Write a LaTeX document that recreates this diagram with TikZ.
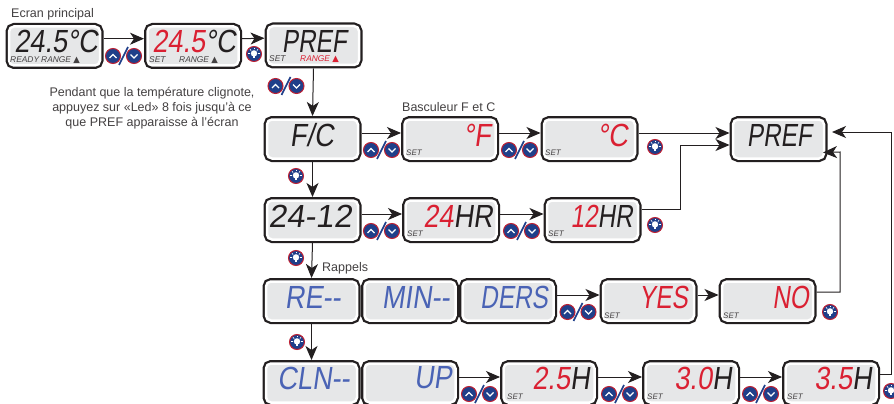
\documentclass[tikz,border=0pt]{standalone}
\usepackage{fontspec}
\setmainfont{Liberation Sans}
\newfontfamily\segfont[FakeStretch=0.85,FakeSlant=0.14]{Liberation Sans}
\newfontfamily\segnarrow[FakeStretch=0.76,FakeSlant=0.14]{Liberation Sans}
\newfontfamily\segwide[FakeStretch=1.02,FakeSlant=0.14]{Liberation Sans}
\newfontfamily\symfont{DejaVu Sans}
\usetikzlibrary{arrows.meta}
\definecolor{ink}{HTML}{231F20}
\definecolor{lcd}{HTML}{E6E7E8}
\definecolor{lcdred}{HTML}{DA2032}
\definecolor{lcdblue}{HTML}{4A63B5}
\definecolor{navy}{HTML}{1F3F8A}
\definecolor{ringred}{HTML}{BE2033}
\newcommand{\red}[1]{\textcolor{lcdred}{#1}}
\newcommand{\tri}{{\symfont\upshape\fontsize{8.5}{8.5}\selectfont ▲}}

\begin{document}
\begin{tikzpicture}[x=1pt,y=-1pt,
    lcdbox/.style={rectangle, rounded corners=5pt, fill=lcd, draw=white, line width=2.5pt,
      preaction={draw=ink, line width=7pt}, minimum width=91pt, minimum height=39pt,
      inner sep=0pt, outer sep=3.5pt},
    readout/.style={font=\segfont\fontsize{32}{32}\selectfont, anchor=east, inner sep=0pt, text=ink},
    narrow/.style={font=\segnarrow\fontsize{32}{32}\selectfont},
    small/.style={font=\itshape\fontsize{8.4}{8.4}\selectfont, inner sep=0pt, text=ink!85, anchor=west},
    caption/.style={font=\fontsize{12.5}{15.3}\selectfont, inner sep=0pt, text=ink!85},
    link/.style={draw=ink, line width=1pt, -{Stealth[length=14pt,width=12pt,inset=4pt]}},
    updown/.pic={
      \draw[ringred, fill=navy, line width=1pt] (-10.5,0) circle (7.5pt);
      \draw[ringred, fill=navy, line width=1pt] (10.5,0) circle (7.5pt);
      \draw[white, line width=1.3pt] (-14,2) -- (-10.5,-1.5) -- (-7,2);
      \draw[white, line width=1.3pt] (7,-1.5) -- (10.5,2) -- (14,-1.5);
      \draw[navy, line width=1.6pt] (-4.5,9) -- (4.5,-9);
    },
    bulb/.pic={
      \draw[ringred, fill=navy, line width=1pt] (0,0) circle (7.5pt);
      \fill[white] (0,-0.6) circle (3.2pt);
      \fill[white] (-1.4,1.5) rectangle (1.4,3.8);
      \foreach \a in {180,225,...,360}
        \draw[white, line width=0.7pt] (0,-0.6) ++(\a:4) -- ++(\a:1.7);
    }]
  \useasboundingbox (0,0) rectangle (894,404);
  \fill[white] (0,0) rectangle (894,404);

  % first row
  \node[lcdbox] (main) at (54.5,46) {};
  \node[lcdbox] (setpt) at (193,46) {};
  \node[lcdbox] (pref) at (313.5,45.5) {};
  % second row
  \node[lcdbox] (fc) at (312.5,139) {};
  \node[lcdbox] (fahr) at (450,139) {};
  \node[lcdbox] (cels) at (589.5,139) {};
  \node[lcdbox] (prefend) at (778.5,139) {};
  % third row
  \node[lcdbox] (clock) at (312.5,220) {};
  \node[lcdbox] (hr24) at (451,220) {};
  \node[lcdbox] (hr12) at (592.5,220) {};
  % reminders
  \node[lcdbox] (re) at (311.5,301) {};
  \node[lcdbox] (mins) at (410,301) {};
  \node[lcdbox] (ders) at (508,301) {};
  \node[lcdbox] (yes) at (648.5,301) {};
  \node[lcdbox] (no) at (767.5,301) {};
  % cleaning
  \node[lcdbox] (cln) at (311.5,383) {};
  \node[lcdbox] (up) at (410,383) {};
  \node[lcdbox] (h25) at (549,383) {};
  \node[lcdbox] (h30) at (691,383) {};
  \node[lcdbox] (h35) at (831,383) {};

  \node[readout] (maintxt) at (98,41.5) {24.5°C};
  \node[readout] (setpttxt) at (236,41.5) {\red{24.5}°C};
  \node[readout,narrow] (preftxt) at (347,41.5) {PREF};
  \node[readout] (fctxt) at (334,135) {F/C};
  \node[readout] (fahrtxt) at (491,135) {\red{°F}};
  \node[readout] (celstxt) at (628,135) {\red{°C}};
  \node[readout,narrow] (prefendtxt) at (812,135) {PREF};
  \node[readout,font=\segwide\fontsize{32}{32}\selectfont] (clocktxt) at (352,216) {24-12};
  \node[readout] (hr24txt) at (493,216) {\red{24}HR};
  \node[readout,narrow] (hr12txt) at (633,216) {\red{12}HR};
  \node[readout,text=lcdblue] (retxt) at (341,297) {RE--};
  \node[readout,text=lcdblue] (minstxt) at (450,297) {MIN--};
  \node[readout,narrow,text=lcdblue] (derstxt) at (548,297) {DERS};
  \node[readout,narrow,text=lcdred] (yestxt) at (688,297) {YES};
  \node[readout,narrow,text=lcdred] (notxt) at (809,297) {NO};
  \node[readout,text=lcdblue] (clntxt) at (350,378) {CLN--};
  \node[readout,text=lcdblue] (uptxt) at (452,378) {UP};
  \node[readout] (h25txt) at (590,378) {\red{2.5}H};
  \node[readout] (h30txt) at (732,378) {\red{3.0}H};
  \node[readout] (h35txt) at (872,378) {\red{3.5}H};

  % small legends
  \node[small] (rdy) at (10,60) {READY};
  \node[small] (rng) at (41,60) {RANGE \tri};
  \node[small] (set) at (149,60) {SET};
  \node[small] (rng2) at (179,60) {RANGE \tri};
  \node[small] (set2) at (269,59) {SET};
  \node[small,text=lcdred] (rng3) at (300,59) {RANGE \tri};
  \foreach \b/\x/\y in {fahr/406/153,cels/545/153,hr24/407/234,hr12/548/234,yes/604/316,no/723/316,h25/507/397,h30/647/397,h35/787/397}
    \node[small,font=\itshape\fontsize{8}{8}\selectfont] (set\b) at (\x,\y) {SET};

  % captions
  \node[caption,anchor=west] (title) at (11,14) {Ecran principal};
  \node[caption,align=center] (note) at (152,108) {Pendant que la température clignote,\\appuyez sur «Led» 8 fois jusqu’à ce\\que PREF apparaisse à l’écran};
  \node[caption,anchor=west] (toggle) at (402,107) {Basculeur F et C};
  \node[caption,anchor=west] (remind) at (322,268) {Rappels};

  % links
  \foreach \a/\b in {main/setpt,setpt/pref}
    \draw[link] ([yshift=7.3pt]\a.east) -- ([yshift=7.3pt]\b.west);
  \foreach \a/\b in {fc/fahr,fahr/cels,cels/prefend,clock/hr24,hr24/hr12,up/h25,h25/h30,h30/h35,ders/yes,yes/no}
    \draw[link] ([yshift=6pt]\a.east) -- ([yshift=6pt]\b.west);
  \foreach \a/\b in {pref/fc,fc/clock,clock/re,re/cln}
    \draw[link] (\a.south) -- (\b.north);
  \coordinate (a1) at (680,209);
  \coordinate (a2) at (680,145);
  \draw[link] ([yshift=11pt]hr12.east) -- (a1) -- (a2) -- (prefend.west |- a2);
  \coordinate (b1) at (840,292);
  \coordinate (b2) at (840,152);
  \coordinate (b3) at (823,152.5);
  \draw[link] ([yshift=9pt]no.east) -- (b1) -- (b2) -- (b3);
  \coordinate (c1) at (891,374);
  \coordinate (c2) at (891,132);
  \coordinate (c3) at (832,132);
  \draw[link] ([yshift=9pt]h35.east) -- (c1) -- (c2) -- (c3);

  % buttons
  \foreach \x/\y in {123.5/56,286/86,381.5/150,519.5/150,381.5/231,521.5/231,578/312,479.5/394,619.5/394,760.5/394}
    \pic at (\x,\y) {updown};
  \foreach \x/\y in {254/54,296/176,296/258,297/342,655/147,655/225,830/312,891/391}
    \pic at (\x,\y) {bulb};
\end{tikzpicture}
\end{document}
